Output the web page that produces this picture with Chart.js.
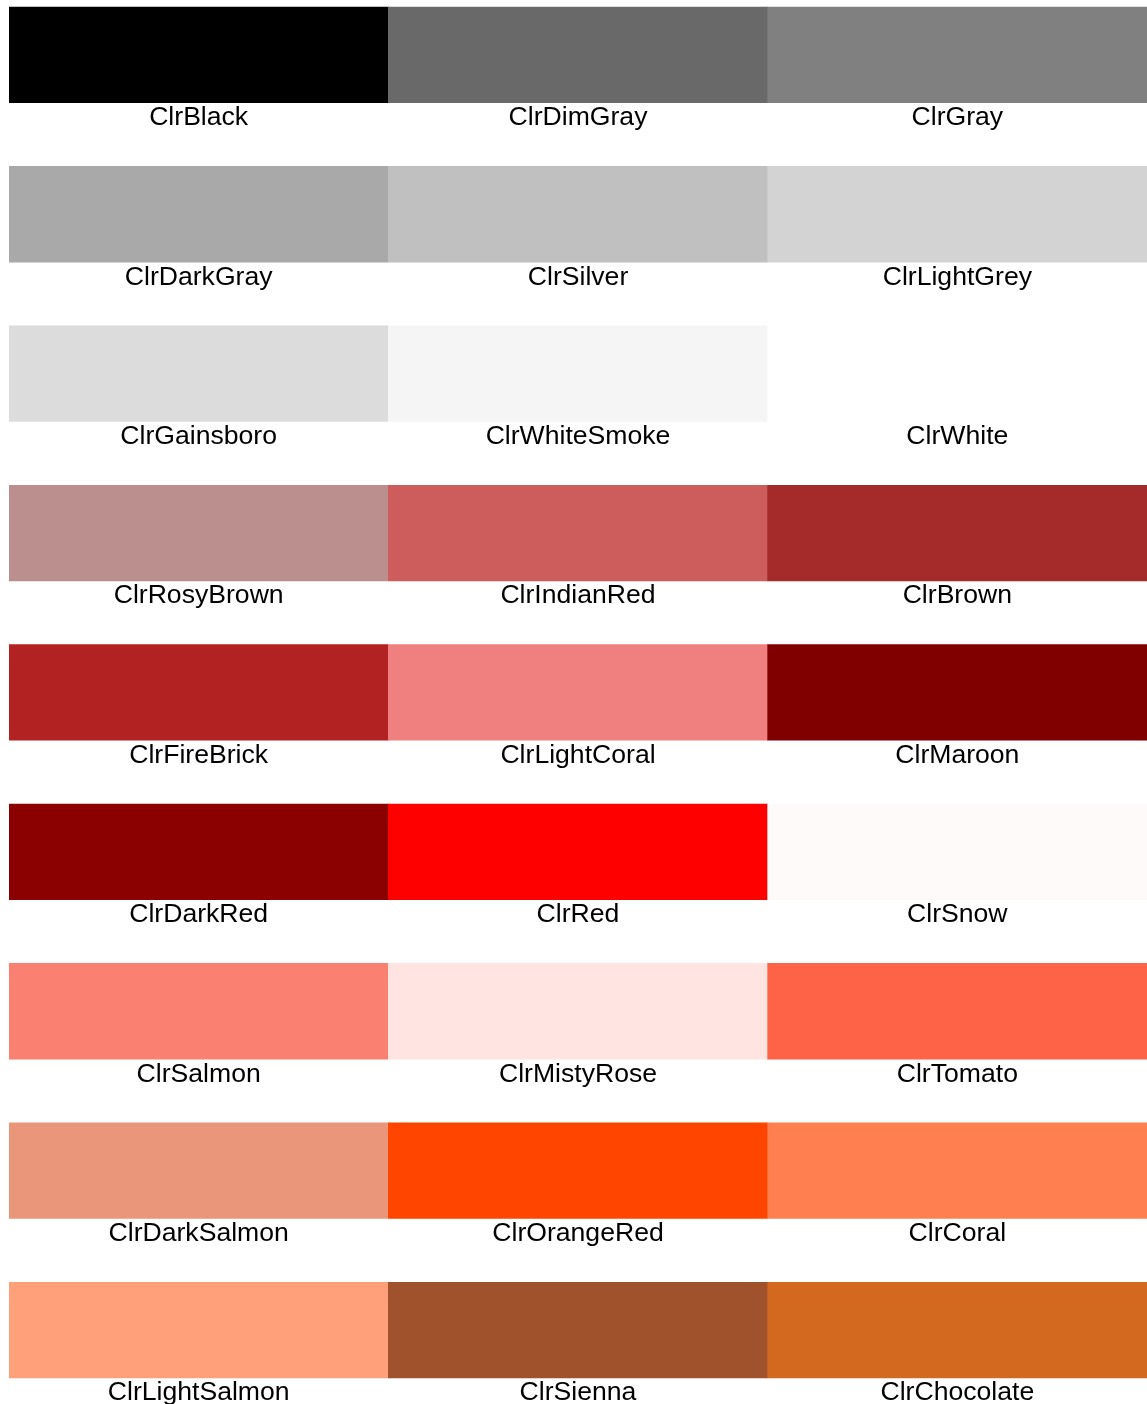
<!DOCTYPE html>
<html>
<head>
<meta charset="utf-8">
<script src="https://cdn.jsdelivr.net/npm/chart.js@4/dist/chart.umd.min.js"></script>
<style>
  html, body { margin: 0; padding: 0; background: #fff; }
  #wrap { width: 1147px; height: 1404px; }
</style>
</head>
<body>
<div id="wrap"><canvas id="swatches"></canvas></div>
<script>
// color names, read row by row (3 per row)
const colorNames = [
  'ClrBlack', 'ClrDimGray', 'ClrGray',
  'ClrDarkGray', 'ClrSilver', 'ClrLightGrey',
  'ClrGainsboro', 'ClrWhiteSmoke', 'ClrWhite',
  'ClrRosyBrown', 'ClrIndianRed', 'ClrBrown',
  'ClrFireBrick', 'ClrLightCoral', 'ClrMaroon',
  'ClrDarkRed', 'ClrRed', 'ClrSnow',
  'ClrSalmon', 'ClrMistyRose', 'ClrTomato',
  'ClrDarkSalmon', 'ClrOrangeRed', 'ClrCoral',
  'ClrLightSalmon', 'ClrSienna', 'ClrChocolate'
];
const colorValues = [
  '#000000', '#696969', '#808080',
  '#a9a9a9', '#c0c0c0', '#d3d3d3',
  '#dcdcdc', '#f5f5f5', '#ffffff',
  '#bc8f8f', '#cd5c5c', '#a52a2a',
  '#b22222', '#f08080', '#800000',
  '#8b0000', '#ff0000', '#fffafa',
  '#fa8072', '#ffe4e1', '#ff6347',
  '#e9967a', '#ff4500', '#ff7f50',
  '#ffa07a', '#a0522d', '#d2691e'
];
const columns = ['c1', 'c2', 'c3'];

const NCOL = columns.length;
const NROW = Math.ceil(colorNames.length / NCOL);
const SWATCH = 0.6;     // part of a row filled by the colour block
const TOP = -0.044;     // small gap above the first row
const BOTTOM = 8.764;

// one dataset per row, bars overlap on the same category
const datasets = [];
for (let r = 0; r < NROW; r++) {
  const data = [];
  const bg = [];
  for (let c = 0; c < NCOL; c++) {
    data.push([r, r + SWATCH]);
    bg.push(colorValues[r * NCOL + c]);
  }
  datasets.push({
    data: data,
    backgroundColor: bg,
    borderWidth: 0,
    barPercentage: 1,
    categoryPercentage: 1,
    grouped: false
  });
}

// names under each block
const namePlugin = {
  id: 'names',
  afterDatasetsDraw(chart) {
    const ctx = chart.ctx;
    const x = chart.scales.x;
    const y = chart.scales.y;
    ctx.save();
    ctx.font = '26.6px "Liberation Sans", Arial, sans-serif';
    ctx.fillStyle = '#000';
    ctx.textAlign = 'center';
    ctx.textBaseline = 'alphabetic';
    colorNames.forEach((name, i) => {
      const r = Math.floor(i / NCOL);
      const c = i % NCOL;
      const px = x.getPixelForValue(c);
      const py = y.getPixelForValue(r + SWATCH) + 22.5;
      ctx.fillText(name, px, py);
    });
    ctx.restore();
  }
};

new Chart(document.getElementById('swatches').getContext('2d'), {
  type: 'bar',
  data: { labels: columns, datasets: datasets },
  options: {
    responsive: true,
    maintainAspectRatio: false,
    animation: false,
    layout: { padding: { left: 9, right: 0, top: 0, bottom: 0 } },
    plugins: { legend: { display: false }, tooltip: { enabled: false } },
    scales: {
      x: { display: false, offset: true },
      y: { display: false, reverse: true, min: TOP, max: BOTTOM }
    }
  },
  plugins: [namePlugin]
});
</script>
</body>
</html>
